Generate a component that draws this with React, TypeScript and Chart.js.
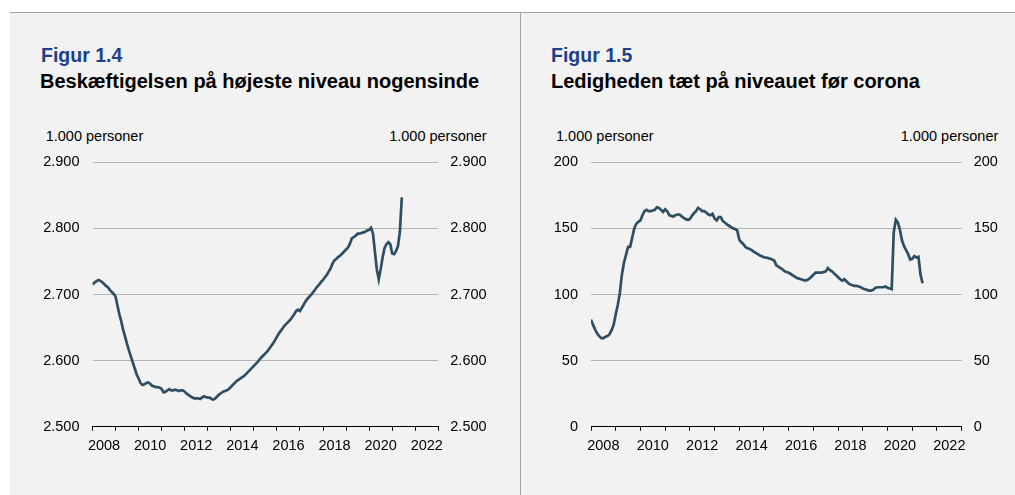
import React, { useEffect, useRef } from 'react';
import { Chart, registerables } from 'chart.js';

Chart.register(...registerables);

const FONT = "'Liberation Sans', Arial, Helvetica, sans-serif";
const LINE_COLOR = '#2f4e62';
const GRID_COLOR = '#b4b4b4';
const BLUE = '#1c408c';

const START_YEAR = 2008;
const END_YEAR = 2023;
const yearLabels = [2008, 2010, 2012, 2014, 2016, 2018, 2020, 2022];

// Beskæftigelse, 1.000 personer, monthly from Jan 2008
const employment = [
  2715, 2718, 2720, 2722, 2721, 2719, 2716, 2713, 2711, 2707, 2704, 2701,
  2697, 2683, 2670, 2659, 2646, 2636, 2625, 2615, 2606, 2597, 2588, 2579,
  2573, 2566, 2563, 2564, 2566, 2567, 2565, 2562, 2561, 2560, 2560, 2559,
  2557, 2552, 2553, 2555, 2557, 2555, 2555, 2556, 2555, 2554, 2555, 2555,
  2553, 2550, 2548, 2546, 2544, 2543, 2543, 2543, 2542, 2544, 2546, 2545,
  2544, 2544, 2542, 2541, 2543, 2546, 2549, 2551, 2553, 2554, 2555, 2557,
  2560, 2563, 2566, 2569, 2571, 2573, 2575, 2577, 2580, 2583, 2586, 2589,
  2592, 2595, 2598, 2602, 2605, 2608, 2611, 2614, 2618, 2622, 2626, 2631,
  2636, 2641, 2645, 2649, 2653, 2656, 2659, 2662, 2666, 2670, 2675, 2677,
  2675, 2680, 2685, 2690, 2694, 2697, 2700, 2704, 2708, 2712, 2715, 2719,
  2722, 2726, 2730, 2735, 2740, 2747, 2752, 2754, 2757, 2759, 2762, 2765,
  2768, 2771, 2777, 2785, 2787, 2789, 2792, 2792, 2793, 2794, 2795, 2797,
  2798, 2801, 2792, 2765, 2738, 2723, 2738, 2756, 2770, 2776, 2779, 2776,
  2762, 2761, 2766, 2773, 2795, 2847,
];

// Ledighed, 1.000 personer, monthly from Jan 2008
const unemployment = [
  81, 77, 73.5, 70.5, 68.5, 67, 67, 68, 68.5, 70, 73, 77,
  85, 92, 101, 115, 124, 130, 136, 136, 143, 150, 153.5, 155,
  156, 160, 163, 164, 163, 163, 163.5, 164, 166, 165.5, 164, 162.5,
  164.5, 163, 160, 159.5, 159, 160, 160.5, 160.5, 159, 158, 157, 156.5,
  157, 159.5, 161.5, 163, 165.5, 164.5, 163, 163, 162, 160.5, 160, 161,
  157.5, 156, 158.5, 158.5, 155.5, 154.5, 153, 152, 151, 150, 149.5, 148.5,
  141.5, 139.5, 138, 136, 135, 134.5, 133.5, 132.5, 131.5, 130.5, 129.5, 129,
  128, 128, 127.5, 127, 126.5, 125.5, 122, 121, 120, 119, 117.5, 117,
  116.5, 115.5, 114.5, 113.5, 112.5, 112, 111.5, 111, 110.5, 111, 112, 113.5,
  115, 116.5, 116.5, 116.5, 116.5, 117, 117.5, 120, 118.5, 117.5, 116, 114.5,
  113, 111.5, 110.5, 111.5, 110, 108.5, 107.5, 107, 106.5, 106.5, 106, 105.5,
  104.5, 104, 103.5, 103, 103, 103.5, 105, 105.5, 105.5, 105.5, 105.5, 106,
  105, 104.5, 104, 147, 156.5, 154.5, 149, 141, 136.5, 133.5, 130.5, 126.5,
  127, 129, 128, 128.5, 115, 108.5,
];

const employmentTicks = [2500, 2600, 2700, 2800, 2900];
const unemploymentTicks = [0, 50, 100, 150, 200];

const fmt = (v: number) => String(v).replace(/\B(?=(\d{3})+(?!\d))/g, '.');

const CANVAS_TOP = 13;
const CANVAS_H = 482;

type PanelProps = {
  values: number[];
  ticks: number[];
  left: number;
  width: number;
  leftAxisW: number;
  rightAxisW: number;
  padL: number;
  padR: number;
};

function LinePanel({ values, ticks, left, width, leftAxisW, rightAxisW, padL, padR }: PanelProps) {
  const ref = useRef<HTMLCanvasElement | null>(null);
  useEffect(() => {
    if (!ref.current) return;
    const data = values.map((v, i) => ({ x: START_YEAR + i / 12, y: v }));
    const tickFont = { family: FONT, size: 14.5 };
    const chart = new Chart(ref.current, {
      type: 'line',
      data: {
        datasets: [
          {
            data,
            borderColor: LINE_COLOR,
            borderWidth: 2.7,
            pointRadius: 0,
            tension: 0,
            fill: false,
          },
        ],
      },
      options: {
        animation: false,
        responsive: false,
        maintainAspectRatio: false,
        events: [],
        layout: { padding: { top: 149.3, bottom: 0, left: 0, right: 0 } },
        plugins: { legend: { display: false }, tooltip: { enabled: false } },
        scales: {
          x: {
            type: 'linear',
            min: START_YEAR,
            max: END_YEAR,
            afterBuildTicks: (axis: any) => {
              const t: any[] = [];
              for (let y = START_YEAR; y <= END_YEAR; y++) {
                t.push({ value: y });
                if (yearLabels.includes(y)) t.push({ value: y + 0.5 });
              }
              axis.ticks = t;
            },
            afterFit: (s: any) => {
              s.height = 68.3;
            },
            ticks: {
              autoSkip: false,
              maxRotation: 0,
              minRotation: 0,
              padding: 7,
              color: '#000',
              font: tickFont,
              callback: (v: any) => (Number(v) % 1 !== 0 ? String(Math.floor(Number(v))) : ''),
            },
            grid: {
              drawOnChartArea: false,
              drawTicks: true,
              tickLength: 4,
              lineWidth: 1,
              color: (ctx: any) =>
                ctx.tick && Number(ctx.tick.value) % 1 === 0 ? '#000' : 'rgba(0,0,0,0)',
            },
            border: { display: true, color: '#000', width: 1 },
          },
          y: {
            type: 'linear',
            position: 'left',
            min: ticks[0],
            max: ticks[ticks.length - 1],
            afterBuildTicks: (axis: any) => {
              axis.ticks = ticks.map((v) => ({ value: v }));
            },
            afterFit: (s: any) => {
              s.width = leftAxisW;
            },
            ticks: {
              padding: padL,
              color: '#000',
              font: tickFont,
              callback: (v: any) => fmt(Number(v)),
            },
            grid: { color: GRID_COLOR, lineWidth: 1, drawTicks: false },
            border: { display: false },
          },
          y2: {
            type: 'linear',
            position: 'right',
            min: ticks[0],
            max: ticks[ticks.length - 1],
            afterBuildTicks: (axis: any) => {
              axis.ticks = ticks.map((v) => ({ value: v }));
            },
            afterFit: (s: any) => {
              s.width = rightAxisW;
            },
            ticks: {
              padding: padR,
              color: '#000',
              font: tickFont,
              callback: (v: any) => fmt(Number(v)),
            },
            grid: { display: false, drawTicks: false },
            border: { display: false },
          },
        },
      } as any,
    });
    return () => chart.destroy();
  }, []);
  return (
    <canvas
      ref={ref}
      width={width}
      height={CANVAS_H}
      style={{ position: 'absolute', left, top: CANVAS_TOP, width, height: CANVAS_H }}
    />
  );
}

type TxtProps = {
  x: number;
  baseline: number;
  size: number;
  bold?: boolean;
  color?: string;
  alignRight?: boolean;
  children: React.ReactNode;
};

function Txt({ x, baseline, size, bold, color, alignRight, children }: TxtProps) {
  const top = baseline - 0.8465 * size;
  const style: React.CSSProperties = {
    position: 'absolute',
    top,
    fontFamily: FONT,
    fontSize: size,
    lineHeight: `${size}px`,
    fontWeight: bold ? 700 : 400,
    color: color || '#000',
    whiteSpace: 'nowrap',
  };
  if (alignRight) style.right = 1015 - x;
  else style.left = x;
  return <div style={style}>{children}</div>;
}

export default function App() {
  return (
    <div
      style={{
        position: 'absolute',
        left: 0,
        top: 0,
        width: 1015,
        height: 495,
        background: '#ffffff',
        overflow: 'hidden',
      }}
    >
      <div style={{ position: 'absolute', left: 10, top: 13, width: 1005, height: 482, background: '#f2f2f2' }} />
      <div style={{ position: 'absolute', left: 10, top: 12, width: 1005, height: 1, background: '#a3a3a3' }} />
      <div style={{ position: 'absolute', left: 520, top: 13, width: 1, height: 482, background: '#a3a3a3' }} />

      <Txt x={41} baseline={62.7} size={19.5} bold color={BLUE}>Figur 1.4</Txt>
      <Txt x={40} baseline={87.7} size={20} bold>Beskæftigelsen på højeste niveau nogensinde</Txt>
      <Txt x={45.7} baseline={141.7} size={14.5}>1.000 personer</Txt>
      <Txt x={486.7} baseline={141.7} size={14.5} alignRight>1.000 personer</Txt>

      <Txt x={551} baseline={62.7} size={19.5} bold color={BLUE}>Figur 1.5</Txt>
      <Txt x={551} baseline={87.7} size={20} bold>Ledigheden tæt på niveauet før corona</Txt>
      <Txt x={556} baseline={141.7} size={14.5}>1.000 personer</Txt>
      <Txt x={998.3} baseline={141.7} size={14.5} alignRight>1.000 personer</Txt>

      <LinePanel
        values={employment}
        ticks={employmentTicks}
        left={10}
        width={510}
        leftAxisW={82.5}
        rightAxisW={81.7}
        padL={13}
        padR={12}
      />
      <LinePanel
        values={unemployment}
        ticks={unemploymentTicks}
        left={521}
        width={494}
        leftAxisW={70}
        rightAxisW={53.3}
        padL={13}
        padR={12}
      />
    </div>
  );
}
